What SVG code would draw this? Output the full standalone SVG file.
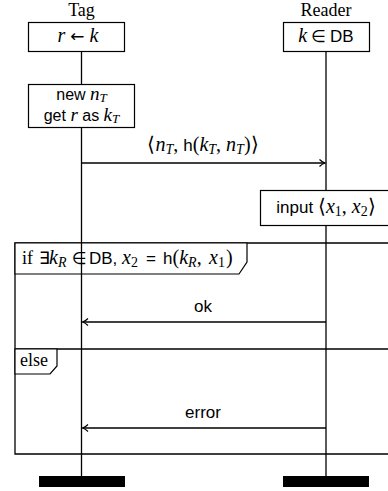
<svg xmlns="http://www.w3.org/2000/svg" width="388" height="491" viewBox="0 0 388 491">
<style>
.ln{stroke:#000;stroke-width:1.3;fill:none}
.bx{stroke:#000;stroke-width:1.2;fill:#fff}
.rm{font-family:"Liberation Serif",serif;font-size:18px;fill:#000}
.sf{font-family:"Liberation Sans",Arial,sans-serif;font-size:17px;fill:#000}
.mi{font-family:"Liberation Serif",serif;font-style:italic;font-size:20px}
.rmp{font-family:"Liberation Serif",serif;font-style:normal;font-size:20px}
.sym{font-family:"DejaVu Sans",sans-serif;font-size:17px}
.sb{font-size:14px}
.mid{text-anchor:middle}
</style>
<defs>
<marker id="ah" markerWidth="10" markerHeight="10" refX="7" refY="5" orient="auto" markerUnits="userSpaceOnUse">
<path d="M1.5,1.5 Q4,4 7,5 Q4,6 1.5,8.5" fill="none" stroke="#000" stroke-width="1.2"/>
</marker>
</defs>
<g id="frame">
<path class="ln" d="M400,243 L15,243 L15,454 L400,454"/>
<path class="ln" d="M15,349 L400,349"/>
<path class="bx" d="M15,243 L247,243 L247,262 L239,274 L15,274 Z"/>
<text class="sf" y="264"><tspan class="rm" x="22">if</tspan><tspan class="sym" x="39">∃</tspan><tspan class="mi" x="49">k</tspan><tspan class="mi sb" dy="3">R</tspan><tspan class="sym" x="72" dy="-3">∈</tspan><tspan x="89">DB,</tspan><tspan class="mi" x="122">x</tspan><tspan class="sb rmp" dy="3">2</tspan><tspan x="146" dy="-3">=</tspan><tspan x="163">h</tspan><tspan class="rmp" x="172.5">(</tspan><tspan class="mi">k</tspan><tspan class="mi sb" dy="3">R</tspan><tspan class="rmp" dy="-3">,</tspan><tspan class="mi" x="209">x</tspan><tspan class="sb rmp" dy="3">1</tspan><tspan class="rmp" dy="-3" x="226">)</tspan></text>
<path class="bx" d="M15,349 L57,349 L57,366 L50,374 L15,374 Z"/>
<text class="rm" x="20" y="366">else</text>
</g>
<g id="tag">
<text class="rm mid" x="81.5" y="16">Tag</text>
<line class="ln" x1="81.5" y1="51" x2="81.5" y2="476"/>
<rect x="39" y="476" width="86" height="11" fill="#000"/>
</g>
<g id="reader">
<text class="rm mid" x="326" y="16">Reader</text>
<line class="ln" x1="326" y1="51" x2="326" y2="476"/>
<rect x="283" y="476" width="86" height="11" fill="#000"/>
</g>
<g id="tag-init">
<rect class="bx" x="28.5" y="22.5" width="96" height="29"/>
<text class="sf mid" x="78" y="42"><tspan class="mi">r</tspan><tspan class="sym" dx="5">←</tspan><tspan class="mi" dx="5">k</tspan></text>
</g>
<g id="reader-init">
<rect class="bx" x="283.5" y="22.5" width="86" height="29"/>
<text class="sf mid" x="326" y="42"><tspan class="mi">k</tspan><tspan class="sym" dx="4">∈</tspan><tspan dx="4">DB</tspan></text>
</g>
<g id="tag-gen">
<rect class="bx" x="28.5" y="84.5" width="106" height="43"/>
<text class="sf mid" x="81.5" y="99.5" style="font-size:16px">new <tspan class="mi" style="font-size:19px">n</tspan><tspan class="mi" style="font-size:13px" dy="2">T</tspan></text>
<text class="sf mid" x="81.5" y="121" style="font-size:16px">get <tspan class="mi" style="font-size:19px">r</tspan> as <tspan class="mi" style="font-size:19px">k</tspan><tspan class="mi" style="font-size:13px" dy="2">T</tspan></text>
</g>
<g id="reader-input">
<rect class="bx" x="260.5" y="190.5" width="140" height="35"/>
<text class="sf mid" x="326" y="213">input <tspan class="rmp">⟨</tspan><tspan class="mi">x</tspan><tspan class="sb rmp" dy="3">1</tspan><tspan class="rmp" dy="-3">, </tspan><tspan class="mi">x</tspan><tspan class="sb rmp" dy="3">2</tspan><tspan class="rmp" dy="-3">⟩</tspan></text>
</g>
<g id="connectors">
<path class="ln" d="M81.5,163 L325,163" marker-end="url(#ah)"/>
<text class="sf mid" x="203" y="151"><tspan class="rmp">⟨</tspan><tspan class="mi">n</tspan><tspan class="mi sb" dy="3">T</tspan><tspan class="rmp" dy="-3">, </tspan>h<tspan class="rmp">(</tspan><tspan class="mi">k</tspan><tspan class="mi sb" dy="3">T</tspan><tspan class="rmp" dy="-3">, </tspan><tspan class="mi">n</tspan><tspan class="mi sb" dy="3">T</tspan><tspan class="rmp" dy="-3">)⟩</tspan></text>
<path class="ln" d="M326,322 L82.5,322" marker-end="url(#ah)"/>
<text class="sf mid" x="203" y="312">ok</text>
<path class="ln" d="M326,428 L82.5,428" marker-end="url(#ah)"/>
<text class="sf mid" x="203" y="418">error</text>
</g>
</svg>
